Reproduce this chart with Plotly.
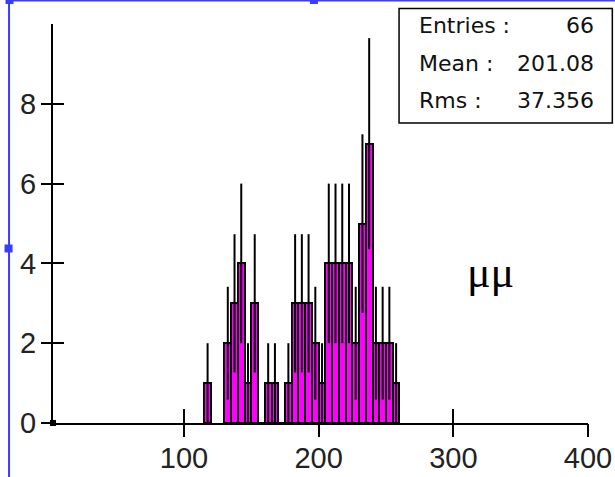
import numpy as np
import plotly.graph_objects as go

# ---- data (histogram, bin width 5) ----
bin_centers = [117.5, 132.5, 137.5, 142.5, 147.5, 152.5, 157.5, 162.5, 167.5, 172.5,
               177.5, 182.5, 187.5, 192.5, 197.5, 202.5, 207.5, 212.5, 217.5, 222.5,
               227.5, 232.5, 237.5, 242.5, 247.5, 252.5, 257.5]
counts = [1, 2, 3, 4, 1, 3, 0, 1, 1, 0,
          1, 3, 3, 3, 2, 1, 4, 4, 4, 4,
          2, 5, 7, 2, 2, 2, 1]
bin_width = 5

x_ticks = [100, 200, 300, 400]
y_ticks = [0, 2, 4, 6, 8]
x_range = [2.7, 400]
y_range = [0, 10]

stat_labels = ["Entries :", "Mean :", "Rms :"]
stat_values = ["66", "201.08", "37.356"]
label_text = "\u03bc\u03bc"

# ---- geometry helpers (pixel -> paper) ----
W, H = 615, 477
ML, MR, MT, MB = 53.4, 27.3, 24, 54
PW, PH = W - ML - MR, H - MT - MB


def px(xp):
    return (xp - ML) / PW


def py(yp):
    return (H - MB - yp) / PH


errs = [float(np.sqrt(c)) for c in counts]

fig = go.Figure()
fig.add_trace(go.Bar(
    x=bin_centers, y=counts, width=[bin_width] * len(counts),
    marker=dict(color="#ff00ff", line=dict(color="black", width=2)),
    error_y=dict(type="data", array=errs, visible=True, color="black",
                 thickness=2, width=0),
    showlegend=False, hoverinfo="skip",
))
# origin marker
fig.add_trace(go.Scatter(
    x=[x_range[0]], y=[0], mode="markers",
    marker=dict(symbol="square", size=6, color="black"),
    cliponaxis=False, showlegend=False, hoverinfo="skip",
))
# dummy trace on overlay axes for outside ticks
fig.add_trace(go.Scatter(x=[x_range[0]], y=[0], xaxis="x2", yaxis="y2",
                         mode="markers", marker=dict(opacity=0),
                         showlegend=False, hoverinfo="skip"))

tick_font = dict(family="Liberation Sans", size=29, color="#222222")
fig.update_layout(
    width=W, height=H,
    margin=dict(l=ML, r=MR, t=MT, b=MB, autoexpand=False),
    paper_bgcolor="white", plot_bgcolor="white",
    bargap=0,
    xaxis=dict(range=x_range, tickvals=x_ticks, ticks="inside", ticklen=14,
               tickwidth=2, tickcolor="black", showline=True, linecolor="black",
               linewidth=2, showgrid=False, zeroline=False, tickfont=tick_font,
               ticklabelstandoff=8, automargin=False),
    yaxis=dict(range=y_range, tickvals=y_ticks, ticks="inside", ticklen=11,
               tickwidth=2, tickcolor="black", showline=True, linecolor="black",
               linewidth=2, showgrid=False, zeroline=False, tickfont=tick_font,
               ticklabelstandoff=9, automargin=False),
    xaxis2=dict(range=x_range, tickvals=x_ticks, ticks="outside", ticklen=13,
                tickwidth=2, tickcolor="black", showticklabels=False,
                showline=False, showgrid=False, zeroline=False,
                overlaying="x", anchor="y2", side="bottom", automargin=False),
    yaxis2=dict(range=y_range, tickvals=y_ticks, ticks="outside", ticklen=11,
                tickwidth=2, tickcolor="black", showticklabels=False,
                showline=False, showgrid=False, zeroline=False,
                overlaying="y", anchor="x2", side="left", automargin=False),
)

shapes = []
blue = "#3c3cff"
# selection frame (left + top)
shapes.append(dict(type="line", xref="paper", yref="paper", x0=px(9.5), x1=px(9.5),
                   y0=py(0), y1=py(H), line=dict(color=blue, width=2)))
shapes.append(dict(type="line", xref="paper", yref="paper", x0=px(9.5), x1=px(W),
                   y0=py(0.5), y1=py(0.5), line=dict(color=blue, width=2)))
for (cx, cy) in [(10, 0), (314, 0), (9, 248.5)]:
    shapes.append(dict(type="rect", xref="paper", yref="paper",
                       x0=px(cx - 4), x1=px(cx + 4), y0=py(cy + 4), y1=py(cy - 4),
                       fillcolor=blue, line=dict(width=0)))
# stats box
shapes.append(dict(type="rect", xref="paper", yref="paper",
                   x0=px(399), x1=px(612), y0=py(123), y1=py(8.5),
                   fillcolor="white", line=dict(color="black", width=1.5)))
fig.update_layout(shapes=shapes)

stat_font = dict(family="DejaVu Sans", size=22, color="#111111")
ys = [25.5, 63, 100.5]
for lab, val, yy in zip(stat_labels, stat_values, ys):
    fig.add_annotation(text=lab, xref="paper", yref="paper", x=px(417), y=py(yy),
                       xanchor="left", yanchor="middle", showarrow=False, font=stat_font)
    fig.add_annotation(text=val, xref="paper", yref="paper", x=px(596), y=py(yy),
                       xanchor="right", yanchor="middle", showarrow=False, font=stat_font)

fig.add_annotation(text=label_text, xref="paper", yref="paper", x=px(490), y=py(272),
                   xanchor="center", yanchor="middle", showarrow=False,
                   font=dict(family="Liberation Serif", size=44, color="black"))

fig.write_html("out.html")
